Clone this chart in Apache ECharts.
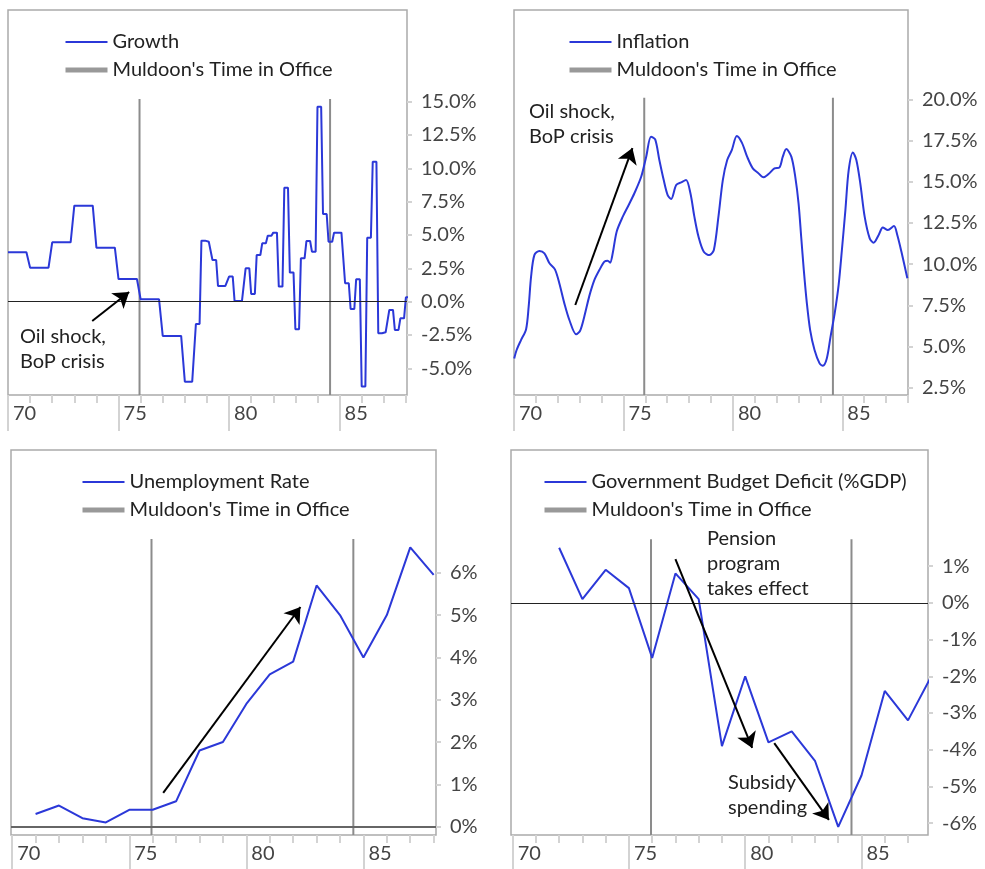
<!DOCTYPE html>
<html>
<head>
<meta charset="utf-8">
<script src="https://cdn.jsdelivr.net/npm/echarts@6/dist/echarts.min.js"></script>
<style>
html, body { margin: 0; padding: 0; background: #fff; }
#main { width: 985px; height: 869px; }
</style>
</head>
<body>
<div id="main"></div>
<script>
var yearTicks = [1970, 1975, 1980, 1985];
var minorYears = [1971, 1972, 1973, 1974, 1975, 1976, 1977, 1978, 1979, 1980, 1981, 1982, 1983, 1984, 1985, 1986, 1987, 1988];
var muldoonTerm = [1975.95, 1984.57];

// growth: annual figures 1970-1977, then quarterly 1978Q1-1988Q1
var growthAnnual = [3.7, 2.55, 4.45, 7.2, 4.05, 1.7, 0.18, -2.57];
var growthQuarterly = [
    -6.0, -6.0, -1.67, 4.58,
    4.5, 3.13, 1.18, 1.18,
    1.88, 0.05, 0.05, 2.5,
    0.58, 3.5, 4.38, 4.95,
    5.18, 1.13, 8.55, 2.18,
    -2.07, 3.25, 4.55, 3.75,
    14.63, 6.58, 4.5, 5.18,
    5.18, 1.38, -0.55, 1.68,
    -6.37, 4.8, 10.5, -2.37,
    -2.3, -0.62, -2.12, -1.25,
    0.33
];

var inflationYears = [1970.01, 1970.12, 1970.32, 1970.55, 1970.67, 1970.78, 1970.93, 1971.16, 1971.39, 1971.62,
    1971.87, 1972.07, 1972.30, 1972.53, 1972.84, 1973.02, 1973.21, 1973.44, 1973.67, 1973.90,
    1974.13, 1974.28, 1974.39, 1974.51, 1974.69, 1974.97, 1975.24, 1975.50, 1975.81, 1976.04,
    1976.26, 1976.45, 1976.64, 1976.84, 1977.02, 1977.18, 1977.41, 1977.64, 1977.86, 1978.06,
    1978.24, 1978.43, 1978.67, 1978.93, 1979.13, 1979.34, 1979.54, 1979.74, 1979.95, 1980.18,
    1980.41, 1980.65, 1980.91, 1981.14, 1981.40, 1981.63, 1981.90, 1982.13, 1982.28, 1982.44,
    1982.67, 1982.85, 1983.00, 1983.12, 1983.24, 1983.38, 1983.53, 1983.73, 1983.96, 1984.11,
    1984.29, 1984.46, 1984.65, 1984.83, 1984.98, 1985.14, 1985.29, 1985.48, 1985.64, 1985.82,
    1986.02, 1986.25, 1986.43, 1986.66, 1986.85, 1987.08, 1987.36, 1987.51, 1987.70, 1987.97];
var inflationValues = [4.28, 4.79, 5.39, 6.04, 7.42, 9.24, 10.55, 10.80, 10.66, 10.05,
    9.68, 8.84, 7.62, 6.61, 5.74, 5.96, 6.81, 8.06, 9.03, 9.64,
    10.15, 10.21, 10.09, 10.66, 11.97, 12.88, 13.59, 14.30, 15.30, 16.52,
    17.73, 17.57, 16.32, 15.10, 14.19, 13.95, 14.80, 14.96, 15.10, 14.30,
    12.88, 11.66, 10.75, 10.55, 10.86, 12.88, 15.10, 16.32, 16.92, 17.77,
    17.37, 16.52, 15.81, 15.55, 15.27, 15.47, 15.81, 15.87, 16.52, 16.98,
    16.52, 15.30, 13.69, 11.66, 9.64, 7.62, 6.00, 4.79, 3.98, 3.84,
    4.28, 5.59, 7.01, 8.73, 10.86, 13.28, 15.70, 16.78, 16.32, 14.90,
    12.88, 11.56, 11.30, 11.77, 12.23, 12.07, 12.31, 11.77, 10.75, 9.14];

var unemploymentYears = [1971, 1972, 1973, 1974, 1975, 1976, 1977, 1978, 1979, 1980, 1981, 1982, 1983, 1984, 1985, 1986, 1987, 1988];
var unemploymentValues = [0.3, 0.5, 0.2, 0.1, 0.4, 0.4, 0.6, 1.8, 2.0, 2.9, 3.6, 3.9, 5.7, 5.0, 4.0, 5.0, 6.6, 5.95];

var deficitYears = [1972, 1973, 1974, 1975, 1976, 1977, 1978, 1979, 1980, 1981, 1982, 1983, 1984, 1985, 1986, 1987, 1988];
var deficitValues = [1.5, 0.1, 0.9, 0.4, -1.5, 0.8, 0.1, -3.9, -2.0, -3.8, -3.5, -4.3, -6.1, -4.7, -2.4, -3.2, -2.0];

var growthTicks = [-5, -2.5, 0, 2.5, 5, 7.5, 10, 12.5, 15];
var inflationTicks = [2.5, 5, 7.5, 10, 12.5, 15, 17.5, 20];
var unemploymentTicks = [0, 1, 2, 3, 4, 5, 6];
var deficitTicks = [-6, -5, -4, -3, -2, -1, 0, 1];

var muldoonName = "Muldoon's Time in Office";
var font = 'Lato';
var blue = '#2b38d8';

function pairs(xs, ys) {
    return xs.map(function (x, i) { return [x, ys[i]]; });
}

// quarterly/annual figures held flat for each month
var growthMonthly = [];
growthAnnual.forEach(function (v, i) {
    for (var m = 0; m < 12; m++) growthMonthly.push([1970 + i + m / 12, v]);
});
growthQuarterly.forEach(function (v, i) {
    for (var m = 0; m < 3; m++) growthMonthly.push([1978 + (i * 3 + m) / 12, v]);
});

function arrow(a, b) {
    return [{ coord: a }, { coord: b, symbol: 'arrow', symbolSize: 15 }];
}

var panels = [
    {
        name: 'Growth', data: growthMonthly, smooth: false,
        grid: { left: 8, top: 10, width: 399, height: 385 },
        x: [1970, 1988.05], y: [-7, 21.88], ticks: growthTicks, digits: 1, top: 15.2,
        legend: { left: 63, top: 31 },
        lines: [{ yAxis: 0, lineStyle: { color: '#222', width: 1 } }, arrow([1973.81, -1.45], [1975.48, 0.73])]
    },
    {
        name: 'Inflation', data: pairs(inflationYears, inflationValues), smooth: 0.3,
        grid: { left: 514, top: 10, width: 394, height: 385 },
        x: [1970, 1988.0], y: [2.06, 25.42], ticks: inflationTicks, digits: 1, top: 20.1,
        legend: { left: 567, top: 31 },
        lines: [arrow([1972.80, 7.52], [1975.41, 17.04])]
    },
    {
        name: 'Unemployment Rate', data: pairs(unemploymentYears, unemploymentValues), smooth: false,
        grid: { left: 11, top: 450, width: 425, height: 385 },
        x: [1969.95, 1988.1], y: [-0.196, 8.9], ticks: unemploymentTicks, digits: 0, top: 6.8,
        legend: { left: 80, top: 471 },
        lines: [{ yAxis: 0, lineStyle: { color: '#666', width: 2 } }, arrow([1976.45, 0.80], [1982.31, 5.19])]
    },
    {
        name: 'Government Budget Deficit (%GDP)', data: pairs(deficitYears, deficitValues), smooth: false,
        grid: { left: 511, top: 450, width: 417, height: 385 },
        x: [1969.93, 1987.86], y: [-6.32, 4.16], ticks: deficitTicks, digits: 0, top: 1.73,
        legend: { left: 542, top: 471 },
        lines: [{ yAxis: 0, lineStyle: { color: '#222', width: 1 } },
            arrow([1977.0, 1.19], [1980.30, -3.95]), arrow([1981.25, -3.82], [1983.60, -5.91])]
    }
];

var option = { animation: false, backgroundColor: '#fff', grid: [], xAxis: [], yAxis: [], series: [], legend: [] };

panels.forEach(function (p, i) {
    option.grid.push(Object.assign({ show: true, borderColor: '#aaa', borderWidth: 1.5, backgroundColor: 'transparent' }, p.grid));
    // labels and long ticks every five years
    option.xAxis.push({
        type: 'value', gridIndex: i, min: p.x[0], max: p.x[1], position: 'bottom',
        axisLine: { show: false, onZero: false }, splitLine: { show: false },
        axisTick: { show: true, customValues: yearTicks, length: 36, lineStyle: { color: '#d3d3d3', width: 2 } },
        axisLabel: {
            customValues: yearTicks, align: 'left', margin: 9, padding: [0, 0, 0, 5],
            fontFamily: font, fontSize: 20, color: '#444',
            formatter: function (v) { return String(Math.round(v)).slice(2); }
        }
    });
    // short ticks every year
    option.xAxis.push({
        type: 'value', gridIndex: i, min: p.x[0], max: p.x[1], position: 'bottom',
        axisLine: { show: false, onZero: false }, splitLine: { show: false }, axisLabel: { show: false },
        axisTick: { show: true, customValues: minorYears, length: 8, lineStyle: { color: '#d3d3d3', width: 2 } }
    });
    option.yAxis.push({
        type: 'value', gridIndex: i, min: p.y[0], max: p.y[1], position: 'right',
        axisLine: { show: false, onZero: false }, splitLine: { show: false },
        axisTick: { show: true, customValues: p.ticks, length: 5, lineStyle: { color: '#d3d3d3', width: 2 } },
        axisLabel: {
            customValues: p.ticks, margin: 14, fontFamily: font, fontSize: 20, color: '#444',
            formatter: function (v) { return v.toFixed(p.digits) + '%'; }
        }
    });
    muldoonTerm.forEach(function (t) {
        option.series.push({
            name: muldoonName, type: 'line', xAxisIndex: i * 2, yAxisIndex: i,
            data: [[t, p.y[0]], [t, p.top]], symbol: 'none', silent: true,
            lineStyle: { color: '#8c8c8c', width: 2 }
        });
    });
    option.series.push({
        name: p.name, type: 'line', xAxisIndex: i * 2, yAxisIndex: i,
        data: p.data, symbol: 'none', smooth: p.smooth, z: 3,
        lineStyle: { color: blue, width: 2 }, itemStyle: { color: blue },
        markLine: {
            silent: true, symbol: ['none', 'none'], label: { show: false },
            lineStyle: { color: '#000', width: 2, type: 'solid' },
            data: p.lines
        }
    });
    option.legend.push({
        orient: 'vertical', left: p.legend.left, top: p.legend.top, padding: 0,
        itemWidth: 42, itemHeight: 14, itemGap: 6,
        itemStyle: { opacity: 0 },
        textStyle: { fontFamily: font, fontSize: 20, color: '#222', lineHeight: 22 },
        data: [{ name: p.name }, { name: muldoonName, lineStyle: { width: 5, color: '#999' } }]
    });
});

var noteStyle = { font: '20px Lato', fill: '#222', lineHeight: 25 };
option.graphic = [
    { type: 'text', left: 20, top: 324, style: Object.assign({ text: 'Oil shock,\nBoP crisis' }, noteStyle) },
    { type: 'text', left: 529, top: 99, style: Object.assign({ text: 'Oil shock,\nBoP crisis' }, noteStyle) },
    { type: 'text', left: 707, top: 526, style: Object.assign({ text: 'Pension\nprogram\ntakes effect' }, noteStyle) },
    { type: 'text', left: 728, top: 770, style: Object.assign({ text: 'Subsidy\nspending' }, noteStyle) }
];

var chart = echarts.init(document.getElementById('main'));
chart.setOption(option);
</script>
</body>
</html>
